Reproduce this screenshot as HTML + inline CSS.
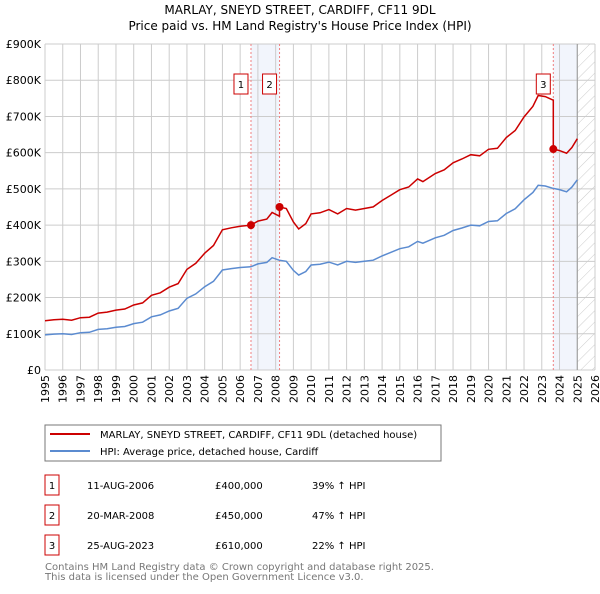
<!DOCTYPE html>
<html><head><meta charset="utf-8"><style>
body{margin:0;background:#fff;font-family:"DejaVu Sans","Liberation Sans",sans-serif;}
svg text{font-family:"DejaVu Sans","Liberation Sans",sans-serif;}
</style></head><body>
<svg id="c" width="600" height="590" xmlns="http://www.w3.org/2000/svg">
<defs><pattern id="hatch" width="8" height="8" patternUnits="userSpaceOnUse" patternTransform="rotate(45)"><line x1="0" y1="0" x2="0" y2="8" stroke="#ccc" stroke-width="1"/></pattern></defs>
<text x="300" y="14" text-anchor="middle" font-size="12" fill="#000">MARLAY, SNEYD STREET, CARDIFF, CF11 9DL</text>
<text x="300" y="30" text-anchor="middle" font-size="12" fill="#000">Price paid vs. HM Land Registry's House Price Index (HPI)</text>
<g id="grid"></g><g id="marks"></g><g id="axes"></g>
<rect x="45" y="425" width="396" height="36" fill="#fff" stroke="#777"/>
<line x1="50" y1="434" x2="90" y2="434" stroke="#cc0000" stroke-width="2"/>
<text x="100" y="438" font-size="10">MARLAY, SNEYD STREET, CARDIFF, CF11 9DL (detached house)</text>
<line x1="50" y1="451" x2="90" y2="451" stroke="#5b8bd0" stroke-width="2"/>
<text x="100" y="455" font-size="10">HPI: Average price, detached house, Cardiff</text>
<g id="table" font-size="10"></g>
<text x="45" y="570" font-size="10" fill="#777">Contains HM Land Registry data © Crown copyright and database right 2025.</text>
<text x="45" y="580" font-size="10" fill="#777">This data is licensed under the Open Government Licence v3.0.</text>
</svg>
<script>
const yearTicks=[1995,1996,1997,1998,1999,2000,2001,2002,2003,2004,2005,2006,2007,2008,2009,2010,2011,2012,2013,2014,2015,2016,2017,2018,2019,2020,2021,2022,2023,2024,2025,2026];
const priceTicks=[0,100,200,300,400,500,600,700,800,900];
const priceTickLabels=["£0","£100K","£200K","£300K","£400K","£500K","£600K","£700K","£800K","£900K"];
const hpiDates=[1995,1995.5,1996,1996.5,1997,1997.5,1998,1998.5,1999,1999.5,2000,2000.5,2001,2001.5,2002,2002.5,2003,2003.5,2004,2004.5,2005,2005.5,2006,2006.6,2007,2007.5,2007.8,2008.2,2008.6,2009,2009.3,2009.7,2010,2010.5,2011,2011.5,2012,2012.5,2013,2013.5,2014,2014.5,2015,2015.5,2016,2016.3,2017,2017.5,2018,2018.5,2019,2019.5,2020,2020.5,2021,2021.5,2022,2022.5,2022.8,2023.2,2023.6,2024,2024.4,2024.7,2025];
const hpiValues=[97,99,100,98,103,104,112,114,118,120,128,132,147,152,163,170,198,210,230,245,276,280,283,285,293,297,310,303,300,275,262,272,290,292,298,290,300,297,300,303,315,325,335,340,355,350,365,372,385,392,400,398,410,412,432,445,470,490,510,508,502,498,492,505,525];
const saleDates=[2006.61,2008.22,2023.65];
const salePrices=[400,450,610];
const saleLabels=["1","2","3"];
const saleDateText=["11-AUG-2006","20-MAR-2008","25-AUG-2023"];
const salePriceText=["£400,000","£450,000","£610,000"];
const saleHpiText=["39% ↑ HPI","47% ↑ HPI","22% ↑ HPI"];
const dataEnd=2025.0;

const X0=45,X1=595,Y0=370,Y1=44,YMIN=1995,YMAX=2026,VMAX=900;
const xs=t=>X0+(t-YMIN)/(YMAX-YMIN)*(X1-X0);
const ys=v=>Y0-v/VMAX*(Y0-Y1);
const NS="http://www.w3.org/2000/svg";
function mk(tag,attrs,parent){const e=document.createElementNS(NS,tag);for(const k in attrs)e.setAttribute(k,attrs[k]);parent.appendChild(e);return e;}
const grid=document.getElementById('grid'),marks=document.getElementById('marks'),axes=document.getElementById('axes'),table=document.getElementById('table');
function hpiAt(t){for(let i=0;i<hpiDates.length-1;i++){if(t<=hpiDates[i+1]){const f=(t-hpiDates[i])/(hpiDates[i+1]-hpiDates[i]);return hpiValues[i]+f*(hpiValues[i+1]-hpiValues[i]);}}return hpiValues[hpiValues.length-1];}
let r=mk('rect',{x:xs(saleDates[0]),y:Y1,width:xs(saleDates[1])-xs(saleDates[0]),height:Y0-Y1,fill:'#f2f5fc'},grid);

r=mk('rect',{x:xs(saleDates[2]),y:Y1,width:xs(dataEnd)-xs(saleDates[2]),height:Y0-Y1,fill:'#f2f5fc'},grid);

r=mk('rect',{x:xs(dataEnd),y:Y1,width:X1-xs(dataEnd),height:Y0-Y1,fill:'url(#hatch)'},grid);

yearTicks.forEach(t=>{const l=mk('line',{x1:xs(t),x2:xs(t),y1:Y1,y2:Y0,stroke:'#ccc'},grid);

const tx=mk('text',{x:0,y:0,'font-size':11,'text-anchor':'end',transform:`translate(${xs(t)+4},${Y0+5}) rotate(-90)`},axes);tx.textContent=t;
});
priceTicks.forEach((v,i)=>{const l=mk('line',{x1:X0,x2:X1,y1:ys(v),y2:ys(v),stroke:'#ccc'},grid);

const tx=mk('text',{x:X0-4,y:ys(v)+4,'font-size':11,'text-anchor':'end'},axes);tx.textContent=priceTickLabels[i];
});
let b=mk('line',{x1:xs(dataEnd),x2:xs(dataEnd),y1:Y1,y2:Y0,stroke:'#999'},grid);

saleDates.forEach((d,i)=>{const l=mk('line',{x1:xs(d),x2:xs(d),y1:Y1,y2:Y0,stroke:'#f08080','stroke-dasharray':'2,2'},grid);
});
let hp=hpiDates.map((t,i)=>xs(t).toFixed(1)+','+ys(hpiValues[i]).toFixed(1)).join(' ');
let hl=mk('polyline',{points:hp,fill:'none',stroke:'#5b8bd0','stroke-width':1.5},marks);

let pts=[];const dates=hpiDates.concat(saleDates).sort((a,b)=>a-b);
dates.forEach(t=>{let k=0;while(k<saleDates.length-1&&t>=saleDates[k+1])k++;
if(t<saleDates[k]||k===0&&t<saleDates[0])k=0;
let v=salePrices[k]*hpiAt(t)/hpiAt(saleDates[k]);pts.push([t,v]);
if(saleDates.indexOf(t)>0){const j=saleDates.indexOf(t);pts.splice(pts.length-1,0,[t,salePrices[j-1]*hpiAt(t)/hpiAt(saleDates[j-1])]);}});
let pl=mk('polyline',{points:pts.map(p=>xs(p[0]).toFixed(1)+','+ys(p[1]).toFixed(1)).join(' '),fill:'none',stroke:'#cc0000','stroke-width':1.5},marks);

saleDates.forEach((d,i)=>{const c=mk('circle',{cx:xs(d),cy:ys(salePrices[i]),r:4,fill:'#cc0000'},marks);

const bx=mk('rect',{x:xs(d)-17,y:74,width:14,height:20,fill:'#fff',stroke:'#cc0000'},marks);

const t=mk('text',{x:xs(d)-10,y:88,'font-size':10,'text-anchor':'middle'},marks);t.textContent=saleLabels[i];

const y=475+i*30;
const tb=mk('rect',{x:45,y:y,width:14,height:20,fill:'#fff',stroke:'#cc0000'},table);

const cols=[[52,saleLabels[i],'middle'],[87,saleDateText[i],'start'],[215,salePriceText[i],'start'],[312,saleHpiText[i],'start']];
cols.forEach(cc=>{const tt=mk('text',{x:cc[0],y:y+14,'text-anchor':cc[2]},table);tt.textContent=cc[1];
});});
</script>
</body></html>
